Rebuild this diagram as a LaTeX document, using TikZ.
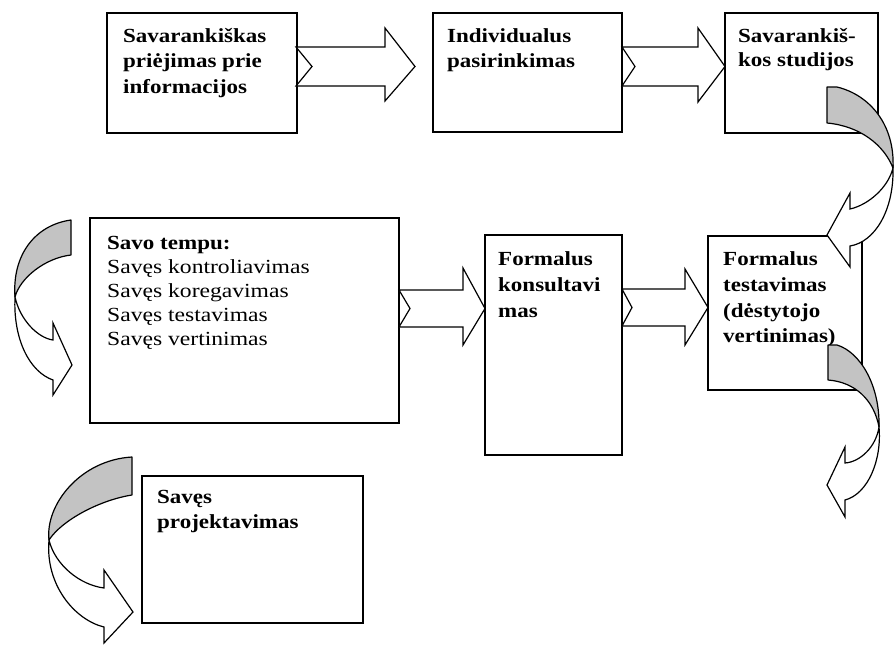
\documentclass[tikz,border=0pt]{standalone}
\usepackage{fontspec}
\setmainfont{Liberation Serif}[FakeStretch=1.15]
\newfontfamily\regfont{Liberation Serif}[FakeStretch=1.18]
\definecolor{bandgray}{RGB}{195,195,195}
\tikzset{
  box/.style={draw, line width=1.3pt, inner sep=0pt},
  txt/.style={anchor=base west, inner sep=0pt, font=\fontsize{20}{24}\selectfont\regfont},
  btxt/.style={anchor=base west, inner sep=0pt, font=\fontsize{20}{24}\selectfont\bfseries},
  blockarrow/.style={draw, line width=1.2pt, fill=white, line join=miter},
  bandback/.style={draw, line width=1.2pt, fill=bandgray, line join=round},
  bandfront/.style={draw, line width=1.2pt, fill=white, line join=miter}
}
% tail, notch, head start, tip, shaft top, shaft bottom, head top, head bottom
\newcommand\notcharrowshape[8]{%
  \draw[blockarrow] (#1,#5) -- (#3,#5) -- (#3,#7) -- (#4,{(#5+#6)/2}) -- (#3,#8)
    -- (#3,#6) -- (#1,#6) -- (#2,{(#5+#6)/2}) -- cycle;}
\begin{document}
\begin{tikzpicture}[x=1pt,y=-1pt]
\useasboundingbox (0,0) rectangle (894,645);
\fill[white] (0,0) rectangle (894,645);

% boxes
\node[box, minimum width=190pt, minimum height=120pt] (b1) at (202,73) {};
\node[box, minimum width=189pt, minimum height=119pt] (b2) at (527.5,72.5) {};
\node[box, minimum width=153pt, minimum height=120pt] (b3) at (801.5,73) {};
\node[box, minimum width=309pt, minimum height=205pt] (b4) at (244.5,320.5) {};
\node[box, minimum width=137pt, minimum height=220pt] (b5) at (553.5,345) {};
\node[box, minimum width=154pt, minimum height=154pt] (b6) at (785,313) {};
\node[box, minimum width=221pt, minimum height=147pt] (b7) at (252.5,549.5) {};

% texts
\node[btxt] (t1a) at (123,42) {Savarankiškas};
\node[btxt] (t1b) at (123,67.5) {priėjimas prie};
\node[btxt] (t1c) at (123,93) {informacijos};

\node[btxt] (t2a) at (447,42) {Individualus};
\node[btxt] (t2b) at (447,67) {pasirinkimas};

\node[btxt] (t3a) at (738,42) {Savarankiš-};
\node[btxt] (t3b) at (738,66) {kos studijos};

\node[btxt] (t4a) at (107,249) {Savo tempu:};
\node[txt] (t4b) at (107,273) {Savęs kontroliavimas};
\node[txt] (t4c) at (107,297) {Savęs koregavimas};
\node[txt] (t4d) at (107,321.5) {Savęs testavimas};
\node[txt] (t4e) at (107,345) {Savęs vertinimas};

\node[btxt] (t5a) at (498,265) {Formalus};
\node[btxt] (t5b) at (498,291) {konsultavi};
\node[btxt] (t5c) at (498,317) {mas};

\node[btxt] (t6a) at (723,265) {Formalus};
\node[btxt] (t6b) at (723,291) {testavimas};
\node[btxt] (t6c) at (723,317) {(dėstytojo};
\node[btxt] (t6d) at (723,342) {vertinimas)};

\node[btxt] (t7a) at (157,503) {Savęs};
\node[btxt] (t7b) at (157,528) {projektavimas};

% straight notched arrows
\notcharrowshape{296}{312}{385}{415}{47}{86}{28}{101}
\notcharrowshape{622}{635}{698}{725}{47}{86}{28}{102}
\notcharrowshape{399}{410}{463}{485}{290}{327}{268}{345}
\notcharrowshape{622}{632}{685}{708}{289}{326}{269}{345}

% curved arrow, right top
\draw[bandback] (827,87) -- (837,87) .. controls (870,95) and (895,125) .. (893,168)
  .. controls (884,145) and (860,126) .. (827,123) -- cycle;
\draw[bandfront] (893,168) .. controls (888,188) and (868,205) .. (850,209)
  -- (850,193) -- (827,235) -- (850,267) -- (850,246)
  .. controls (875,242) and (894,210) .. (893,168) -- cycle;

% curved arrow, left middle
\draw[bandback] (71,220) -- (71,255) .. controls (45,258) and (20,278) .. (15,297)
  .. controls (12,255) and (35,225) .. (71,220) -- cycle;
\draw[bandfront] (15,297) .. controls (20,320) and (38,338) .. (53,340)
  -- (53,323) -- (72,365) -- (53,395) -- (53,380)
  .. controls (30,372) and (13,340) .. (15,297) -- cycle;

% curved arrow, right bottom
\draw[bandback] (828,345) -- (837,345) .. controls (860,352) and (880,385) .. (879,427)
  .. controls (874,400) and (855,382) .. (828,380) -- cycle;
\draw[bandfront] (879,427) .. controls (876,447) and (860,462) .. (845,463)
  -- (845,447) -- (827,485) -- (845,517) -- (845,500)
  .. controls (868,494) and (882,460) .. (879,427) -- cycle;

% curved arrow, left bottom
\draw[bandback] (132,457) -- (132,495) .. controls (100,500) and (62,520) .. (49,540)
  .. controls (45,505) and (80,460) .. (132,457) -- cycle;
\draw[bandfront] (49,540) .. controls (55,565) and (80,585) .. (104,588)
  -- (104,570) -- (133,612) -- (104,643) -- (104,627)
  .. controls (75,620) and (45,585) .. (49,540) -- cycle;
\end{tikzpicture}
\end{document}
